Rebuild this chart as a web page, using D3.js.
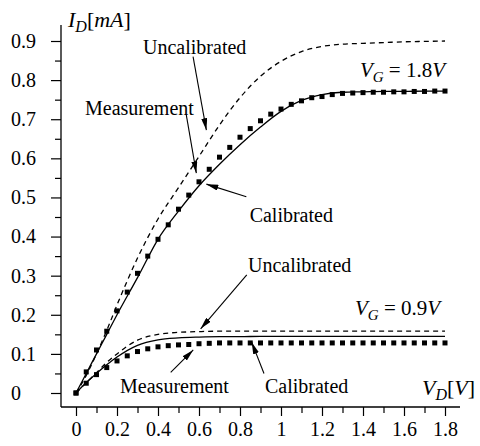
<!DOCTYPE html>
<html>
<head>
<meta charset="utf-8">
<script src="https://cdn.jsdelivr.net/npm/d3@7"></script>
<style>
  body { margin: 0; background: #fff; }
  svg { display: block; font-family: "Liberation Serif", "Times New Roman", serif; }
  .tick text { font-size: 20px; fill: #000; font-family: "Liberation Serif", "Times New Roman", serif; }
  .tick line { stroke: #000; stroke-width: 1.2; }
  .ann { font-size: 20px; fill: #000; }
  text { white-space: pre; }
</style>
</head>
<body>
<svg width="480" height="446"></svg>
<script>
// drain voltage grid of the measurement points (V)
const measX = [0, 0.05, 0.1, 0.15, 0.2, 0.25, 0.3, 0.35, 0.4, 0.45, 0.5, 0.55, 0.6, 0.65, 0.7, 0.75,
  0.8, 0.85, 0.9, 0.95, 1.0, 1.05, 1.1, 1.15, 1.2, 1.25, 1.3, 1.35, 1.4, 1.45, 1.5, 1.55, 1.6, 1.65,
  1.7, 1.75, 1.8];
// measured drain current (mA)
const meas18 = [0, 0.054, 0.11, 0.158, 0.21, 0.258, 0.306, 0.35, 0.393, 0.43, 0.47, 0.506, 0.54, 0.572,
  0.603, 0.628, 0.654, 0.676, 0.696, 0.713, 0.726, 0.738, 0.747, 0.755, 0.758, 0.763, 0.766, 0.767,
  0.768, 0.769, 0.769, 0.77, 0.77, 0.771, 0.771, 0.772, 0.772];
const meas09 = [0, 0.025, 0.047, 0.065, 0.082, 0.095, 0.106, 0.113, 0.118, 0.121, 0.123, 0.124, 0.126,
  0.127, 0.128, 0.128, 0.128, 0.128, 0.128, 0.128, 0.128, 0.128, 0.128, 0.128, 0.128, 0.128, 0.128,
  0.128, 0.128, 0.128, 0.128, 0.128, 0.128, 0.128, 0.128, 0.128, 0.128];

// model curves
const curveX = [0, 0.05, 0.1, 0.15, 0.2, 0.3, 0.4, 0.5, 0.6, 0.7, 0.8, 0.9, 1.0, 1.1, 1.2, 1.3, 1.4, 1.5, 1.6, 1.7, 1.8];
const cal18 = [0, 0.05, 0.1, 0.15, 0.2, 0.295, 0.393, 0.465, 0.53, 0.585, 0.635, 0.68, 0.72, 0.748, 0.763,
  0.769, 0.77, 0.771, 0.771, 0.772, 0.772];
const uncal18 = [0, 0.045, 0.1, 0.16, 0.225, 0.345, 0.445, 0.525, 0.605, 0.685, 0.755, 0.81, 0.848, 0.873,
  0.886, 0.892, 0.894, 0.896, 0.898, 0.899, 0.9];
const cal09 = [0, 0.027, 0.05, 0.072, 0.092, 0.122, 0.136, 0.141, 0.143, 0.144, 0.144, 0.145, 0.145, 0.145,
  0.145, 0.145, 0.145, 0.145, 0.145, 0.145, 0.145];
const uncal09 = [0, 0.026, 0.052, 0.078, 0.1, 0.135, 0.15, 0.155, 0.157, 0.158, 0.158, 0.158, 0.158, 0.158,
  0.158, 0.158, 0.158, 0.158, 0.158, 0.158, 0.158];

// ticks
const xMajor = [0, 0.2, 0.4, 0.6, 0.8, 1, 1.2, 1.4, 1.6, 1.8];
const xLabels = ["0", "0.2", "0.4", "0.6", "0.8", "1", "1.2", "1.4", "1.6", "1.8"];
const xMinor = [0.1, 0.3, 0.5, 0.7, 0.9, 1.1, 1.3, 1.5, 1.7];
const yMajor = [0, 0.1, 0.2, 0.3, 0.4, 0.5, 0.6, 0.7, 0.8, 0.9];
const yLabels = ["0", "0.1", "0.2", "0.3", "0.4", "0.5", "0.6", "0.7", "0.8", "0.9"];
const yMinor = [0.05, 0.15, 0.25, 0.35, 0.45, 0.55, 0.65, 0.75, 0.85];

// annotations, in data units: text anchor and arrow from/to
const notes = [
  { text: "Uncalibrated", x: 0.327, y: 0.867, a: [0.571, 0.860, 0.636, 0.672] },
  { text: "Measurement", x: 0.044, y: 0.711, a: [0.538, 0.711, 0.587, 0.562] },
  { text: "Calibrated", x: 0.847, y: 0.438, a: [0.831, 0.502, 0.636, 0.534] },
  { text: "Uncalibrated", x: 0.839, y: 0.310, a: [0.833, 0.302, 0.608, 0.164] },
  { text: "Measurement", x: 0.215, y: 0.0, a: [0.462, 0.053, 0.572, 0.110] },
  { text: "Calibrated", x: 0.922, y: 0.0, a: [0.917, 0.050, 0.857, 0.130] }
];
const vgLabels = [
  { value: "1.8", x: 1.385, y: 0.809 },
  { value: "0.9", x: 1.361, y: 0.199 }
];

const svg = d3.select('svg');
const x = d3.scaleLinear().domain([0, 1.8]).range([76, 445]);
const y = d3.scaleLinear().domain([0, 0.9]).range([393, 41]);
const gap = 15;                       // axes sit a bit away from the origin
const axX = x(0) - gap, axY = y(0) + 14;

// y axis
const yAxisG = svg.append('g').attr('transform', `translate(${axX},0)`);
yAxisG.call(d3.axisLeft(y).tickValues(yMajor).tickSize(10).tickFormat((d, i) => yLabels[i]));
yAxisG.selectAll('.tick text').attr('text-anchor', 'start').attr('x', 11 - axX);
yAxisG.append('g').call(d3.axisLeft(y).tickValues(yMinor).tickSize(6).tickFormat(''));
svg.append('line').attr('x1', axX).attr('x2', axX).attr('y1', 25).attr('y2', axY)
  .attr('stroke', '#000').attr('stroke-width', 1.3);

// x axis
const xAxisG = svg.append('g').attr('transform', `translate(0,${axY})`);
xAxisG.call(d3.axisBottom(x).tickValues(xMajor).tickSize(9).tickPadding(6).tickFormat((d, i) => xLabels[i]));
xAxisG.append('g').call(d3.axisBottom(x).tickValues(xMinor).tickSize(6).tickFormat(''));
svg.append('line').attr('x1', axX).attr('x2', 460).attr('y1', axY).attr('y2', axY)
  .attr('stroke', '#000').attr('stroke-width', 1.3);
svg.selectAll('.domain').remove();
svg.selectAll('g').attr('font-family', null).attr('font-size', null);

// curves
const line = d3.line().x(d => x(d[0])).y(d => y(d[1])).curve(d3.curveMonotoneX);
const pair = ys => curveX.map((v, i) => [v, ys[i]]);
[[uncal18, '5,4'], [uncal09, '5,4'], [cal18, null], [cal09, null]].forEach(([ys, dash]) => {
  svg.append('path').attr('d', line(pair(ys)))
    .attr('fill', 'none').attr('stroke', '#000').attr('stroke-width', 1.3)
    .attr('stroke-dasharray', dash);
});

// measurement squares
const sq = 5;
[meas18, meas09].forEach(ys => {
  svg.append('g').selectAll('rect').data(measX.map((v, i) => [v, ys[i]])).join('rect')
    .attr('x', d => x(d[0]) - sq / 2).attr('y', d => y(d[1]) - sq / 2)
    .attr('width', sq).attr('height', sq).attr('fill', '#000');
});

// arrows
svg.append('defs').append('marker').attr('id', 'arr')
  .attr('viewBox', '0 0 12 6').attr('refX', 12).attr('refY', 3)
  .attr('markerWidth', 12).attr('markerHeight', 6).attr('markerUnits', 'userSpaceOnUse')
  .attr('orient', 'auto')
  .append('path').attr('d', 'M0,0L12,3L0,6Z').attr('fill', '#000');

notes.forEach(n => {
  svg.append('text').attr('class', 'ann').attr('x', x(n.x)).attr('y', y(n.y)).text(n.text);
  svg.append('line')
    .attr('x1', x(n.a[0])).attr('y1', y(n.a[1])).attr('x2', x(n.a[2])).attr('y2', y(n.a[3]))
    .attr('stroke', '#000').attr('stroke-width', 1.1).attr('marker-end', 'url(#arr)');
});

// V_G labels
vgLabels.forEach(v => {
  const t = svg.append('text').attr('x', x(v.x)).attr('y', y(v.y)).attr('font-size', 21);
  t.append('tspan').attr('font-style', 'italic').text('V');
  t.append('tspan').attr('font-style', 'italic').attr('font-size', 15).attr('dy', 5).text('G');
  t.append('tspan').attr('dy', -5).text(' = ' + v.value);
  t.append('tspan').attr('font-style', 'italic').text('V');
});

// axis titles
const title = (px, py, main, sub, unit) => {
  const t = svg.append('text').attr('x', px).attr('y', py).attr('font-size', 22);
  t.append('tspan').attr('font-style', 'italic').text(main);
  t.append('tspan').attr('font-style', 'italic').attr('font-size', 16).attr('dy', 5).text(sub);
  t.append('tspan').attr('dy', -5).text('[');
  t.append('tspan').attr('font-style', 'italic').text(unit);
  t.append('tspan').text(']');
};
title(68, 27, 'I', 'D', 'mA');
title(422, 395, 'V', 'D', 'V');
</script>
</body>
</html>
